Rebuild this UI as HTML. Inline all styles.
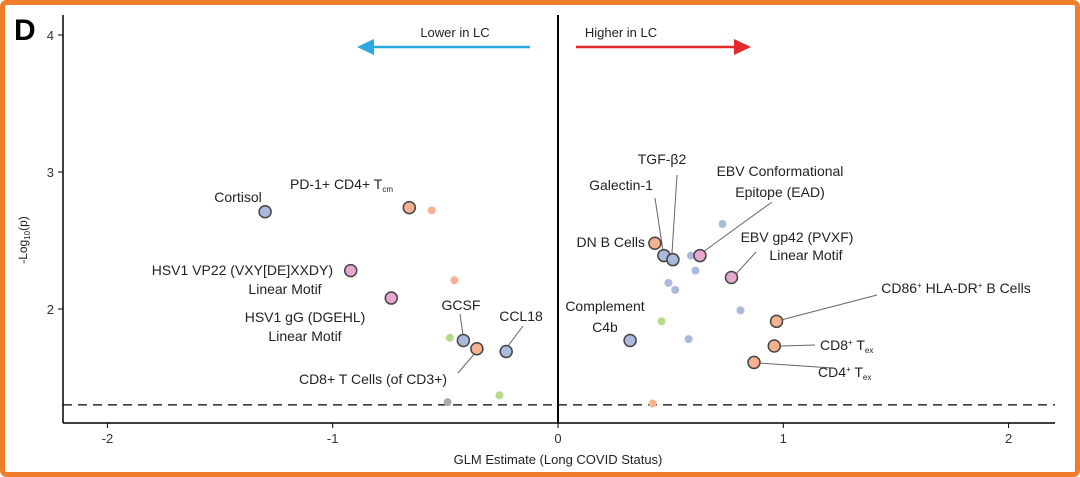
<!DOCTYPE html>
<html><head><meta charset="utf-8">
<style>
html,body{margin:0;padding:0;background:#fff;}
svg{display:block;font-family:"Liberation Sans",Arial,sans-serif;}
</style></head>
<body>
<svg id="chart" width="1080" height="477" viewBox="0 0 1080 477" xmlns="http://www.w3.org/2000/svg">
<rect x="2.5" y="2.5" width="1075" height="472" rx="4" fill="#fff" stroke="#f07d2b" stroke-width="5"/>
<text x="14" y="40" font-size="30" font-weight="bold" fill="#000">D</text>
<g id="axes"></g>
<g id="guides"></g>
<g id="leaders" stroke="#666" stroke-width="1"></g>
<g id="points"></g>
<g id="labels" font-size="14" fill="#222"></g>
</svg>
<script>
const xs = [-1.30,-0.66,-0.56,-0.92,-0.74,-0.46,-0.48,-0.42,-0.36,-0.23,-0.26,-0.49,
            0.43,0.47,0.51,0.59,0.63,0.73,0.61,0.49,0.52,0.77,0.46,0.81,0.32,0.58,0.97,0.96,0.87,0.42];
const ys = [2.71,2.74,2.72,2.28,2.08,2.21,1.79,1.77,1.71,1.69,1.37,1.32,
            2.48,2.39,2.36,2.39,2.39,2.62,2.28,2.19,2.14,2.23,1.91,1.99,1.77,1.78,1.91,1.73,1.61,1.31];
const cats = ['b','o','o','p','p','o','g','b','o','b','g','k',
              'o','b','b','b','p','b','b','b','b','p','g','b','b','b','o','o','o','o'];
const big = [1,1,0,1,1,0,0,1,1,1,0,0, 1,1,1,0,1,0,0,0,0,1,0,0,1,0,1,1,1,0];
const xTicks = [-2,-1,0,1,2];
const yTicks = [2,3,4];
const threshold = 1.3;

const NS='http://www.w3.org/2000/svg';
const X0=63,X1=1055,Y0=15,Y1=423;
function sx(v){return 558+v*225.3;}
function sy(v){return 309-(v-2)*137;}
function mk(tag,attrs,parent){const e=document.createElementNS(NS,tag);for(const k in attrs)e.setAttribute(k,attrs[k]);parent.appendChild(e);return e;}
const fills={o:'#f5b190',b:'#a9badd',p:'#e7a8d0',g:'#b8da8c',k:'#aaaaaa'};

const ax=document.getElementById('axes');
let l=mk('line',{x1:X0,y1:Y0,x2:X0,y2:Y1,stroke:'#000','stroke-width':1.5},ax);


l=mk('line',{x1:X0,y1:Y1,x2:X1,y2:Y1,stroke:'#000','stroke-width':1.5},ax);


xTicks.forEach(t=>{
  const tk=mk('line',{x1:sx(t),y1:Y1,x2:sx(t),y2:Y1+5,stroke:'#000'},ax);
  
  
  const tx=mk('text',{x:sx(t),y:Y1+20,'text-anchor':'middle','font-size':13,fill:'#333'},ax);
  tx.textContent=t;
  
  
});
yTicks.forEach(t=>{
  const tk=mk('line',{x1:X0-5,y1:sy(t),x2:X0,y2:sy(t),stroke:'#000'},ax);
  
  
  const tx=mk('text',{x:X0-9,y:sy(t)+5,'text-anchor':'end','font-size':13,fill:'#333'},ax);
  tx.textContent=t;
  
  
});
let tt=mk('text',{x:558,y:464,'text-anchor':'middle','font-size':13,fill:'#222'},ax);
tt.textContent='GLM Estimate (Long COVID Status)';


tt=mk('text',{transform:'translate(27,240) rotate(-90)','text-anchor':'middle','font-size':12,fill:'#222'},ax);
tt.innerHTML='-Log<tspan font-size="8" dy="3">10</tspan><tspan dy="-3">(p)</tspan>';



const gd=document.getElementById('guides');
let z=mk('line',{x1:sx(0),y1:Y0,x2:sx(0),y2:Y1,stroke:'#000','stroke-width':2},gd);


z=mk('line',{x1:X0,y1:sy(threshold),x2:X1,y2:sy(threshold),stroke:'#000','stroke-width':1.3,'stroke-dasharray':'9,6'},gd);


z=mk('line',{x1:530,y1:47,x2:370,y2:47,stroke:'#2ba8e0','stroke-width':2.5},gd);


z=mk('polygon',{points:'357,47 374,39 374,55',fill:'#2ba8e0'},gd);


z=mk('text',{x:455,y:37,'text-anchor':'middle','font-size':13,fill:'#222'},gd);
z.textContent='Lower in LC';


z=mk('line',{x1:576,y1:47,x2:737,y2:47,stroke:'#e12b2b','stroke-width':2.5},gd);


z=mk('polygon',{points:'751,47 734,39 734,55',fill:'#e12b2b'},gd);


z=mk('text',{x:621,y:37,'text-anchor':'middle','font-size':13,fill:'#222'},gd);
z.textContent='Higher in LC';



const pg=document.getElementById('points');
xs.forEach((v,i)=>{
  const c=mk('circle',{cx:sx(v),cy:sy(ys[i]),r:big[i]?6:4,fill:fills[cats[i]]},pg);
  if(big[i]){c.setAttribute('stroke','#444');c.setAttribute('stroke-width','1.5');}
  
  
});

const lg=document.getElementById('leaders');
[[460,314,463,335],[523,326,508,346],[458,373,476,352],[655,198,663,251],[677,175,672,253],
 [772,202,703,252],[756,252,736,274],[877,295,781,320],[815,345,781,346],[832,368,759,363]].forEach(a=>{
  const e=mk('line',{x1:a[0],y1:a[1],x2:a[2],y2:a[3]},lg);
  
  
});

const lb=document.getElementById('labels');
const labs=[
 ['Cortisol',238,202,'middle'],
 ['PD-1+ CD4+ T<tspan font-size="8" dy="3">cm</tspan>',393,189,'end'],
 ['HSV1 VP22 (VXY[DE]XXDY)',333,275,'end'],
 ['Linear Motif',285,294,'middle'],
 ['HSV1 gG (DGEHL)',305,322,'middle'],
 ['Linear Motif',305,341,'middle'],
 ['GCSF',461,310,'middle'],
 ['CCL18',521,321,'middle'],
 ['CD8+ T Cells (of CD3+)',373,384,'middle'],
 ['TGF-β2',662,164,'middle'],
 ['Galectin-1',621,190,'middle'],
 ['EBV Conformational',780,176,'middle'],
 ['Epitope (EAD)',780,197,'middle'],
 ['DN B Cells',645,247,'end'],
 ['EBV gp42 (PVXF)',797,242,'middle'],
 ['Linear Motif',806,260,'middle'],
 ['Complement',605,311,'middle'],
 ['C4b',605,332,'middle'],
 ['CD86<tspan font-size="8" dy="-5">+</tspan><tspan dy="5"> HLA-DR</tspan><tspan font-size="8" dy="-5">+</tspan><tspan dy="5"> B Cells</tspan>',956,293,'middle'],
 ['CD8<tspan font-size="8" dy="-5">+</tspan><tspan dy="5"> T</tspan><tspan font-size="8" dy="3">ex</tspan>',820,350,'start'],
 ['CD4<tspan font-size="8" dy="-5">+</tspan><tspan dy="5"> T</tspan><tspan font-size="8" dy="3">ex</tspan>',818,377,'start']
];
labs.forEach(a=>{
  const t=mk('text',{x:a[1],y:a[2],'text-anchor':a[3]},lb);
  t.innerHTML=a[0];
  
  
});
</script>
</body></html>
